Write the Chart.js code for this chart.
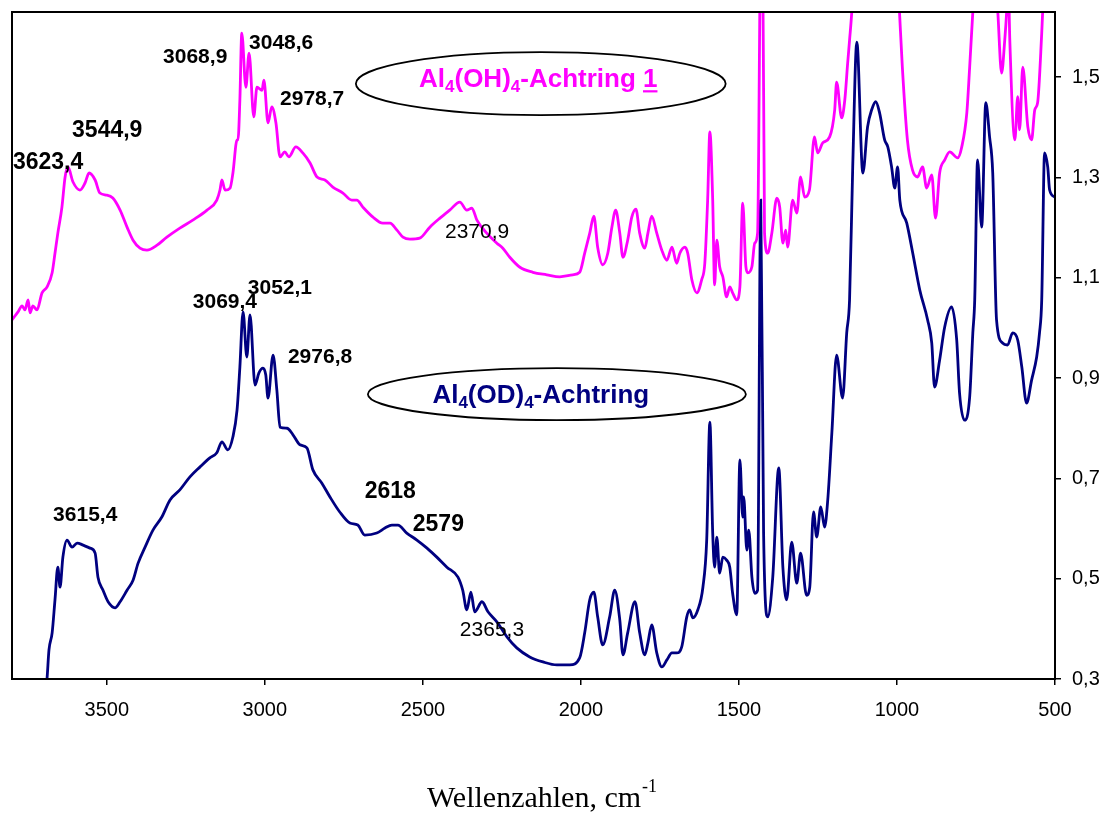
<!DOCTYPE html>
<html>
<head>
<meta charset="utf-8">
<script src="https://cdn.jsdelivr.net/npm/chart.js@4.4.1/dist/chart.umd.min.js"></script>
<style>
  html, body { margin: 0; padding: 0; background: #fff; }
  #wrap { width: 1104px; height: 813px; position: relative; }
</style>
</head>
<body>
<div id="wrap"><canvas id="c"></canvas></div>
<script>
// ---------------- DATA ----------------
const xTickValues = [3500, 3000, 2500, 2000, 1500, 1000, 500];
const yTickValues = [0.3, 0.5, 0.7, 0.9, 1.1, 1.3, 1.5];

// Al4(OH)4-Achtring 1 (magenta)
const ohWavenumbers = [3800,3781,3768,3759,3749,3743,3734,3721,3705,3689,3673,3664,3655,3642,3632,3623,3607,3585,3569,3556,3537,3522,3500,3481,3458,3436,3417,3395,3373,3341,3310,3269,3228,3183,3152,3142,3136,3126,3110,3101,3088,3085,3079,3073,3060,3050,3035,3025,3009,3003,2990,2978,2965,2952,2937,2924,2902,2880,2857,2835,2810,2785,2753,2725,2709,2690,2658,2627,2604,2582,2563,2541,2510,2478,2446,2415,2383,2361,2345,2329,2298,2266,2247,2225,2193,2152,2108,2067,2026,2004,1988,1972,1959,1947,1931,1915,1902,1890,1877,1867,1852,1839,1826,1814,1798,1788,1776,1760,1744,1728,1712,1697,1687,1671,1662,1649,1633,1618,1608,1599,1592,1583,1577,1570,1561,1551,1539,1529,1520,1507,1497,1488,1478,1472,1459,1450,1441,1431,1425,1419,1409,1396,1380,1371,1361,1352,1346,1330,1317,1305,1292,1277,1261,1251,1235,1213,1197,1191,1175,1165,1156,1150,1143,1125,1060,1010,992,983,967,951,935,919,906,890,878,865,849,833,808,795,779,770,760,740,700,681,669,659,653,648,643,627,618,612,602,586,574,564,555,542,539,520,500];
const ohAbsorbance = [1.016,1.032,1.044,1.036,1.056,1.030,1.044,1.036,1.070,1.082,1.110,1.149,1.189,1.241,1.301,1.321,1.291,1.275,1.289,1.309,1.295,1.269,1.265,1.259,1.235,1.201,1.175,1.159,1.155,1.165,1.181,1.199,1.215,1.235,1.255,1.275,1.295,1.275,1.279,1.309,1.375,1.375,1.455,1.588,1.480,1.548,1.421,1.480,1.474,1.494,1.409,1.441,1.409,1.341,1.351,1.341,1.361,1.349,1.329,1.301,1.295,1.281,1.269,1.255,1.255,1.241,1.221,1.209,1.209,1.195,1.181,1.177,1.179,1.201,1.219,1.235,1.251,1.235,1.239,1.215,1.189,1.169,1.159,1.141,1.121,1.111,1.106,1.102,1.106,1.111,1.149,1.189,1.223,1.161,1.126,1.149,1.201,1.235,1.189,1.141,1.175,1.221,1.237,1.189,1.159,1.189,1.223,1.189,1.155,1.135,1.161,1.129,1.149,1.161,1.149,1.096,1.070,1.096,1.129,1.255,1.391,1.255,1.086,1.175,1.122,1.102,1.062,1.082,1.070,1.056,1.082,1.249,1.122,1.110,1.122,1.169,1.189,1.75,1.75,1.189,1.149,1.189,1.259,1.241,1.169,1.195,1.161,1.255,1.229,1.301,1.261,1.275,1.381,1.349,1.369,1.381,1.435,1.490,1.419,1.455,1.528,1.574,1.63,1.85,1.95,1.85,1.63,1.520,1.375,1.315,1.301,1.321,1.279,1.305,1.219,1.309,1.335,1.351,1.339,1.361,1.429,1.520,1.63,1.8,1.8,1.63,1.508,1.574,1.63,1.7,1.574,1.375,1.461,1.395,1.520,1.401,1.375,1.435,1.449,1.588,1.63,1.8,1.85];

// Al4(OD)4-Achtring (navy)
const odWavenumbers = [3696,3689,3683,3673,3664,3655,3648,3639,3626,3610,3594,3575,3553,3537,3528,3512,3496,3474,3458,3436,3417,3401,3379,3354,3326,3300,3269,3237,3205,3174,3152,3136,3117,3101,3088,3079,3069,3057,3047,3031,3019,3006,2997,2990,2974,2962,2952,2930,2911,2889,2867,2848,2820,2794,2763,2731,2706,2684,2646,2620,2598,2579,2551,2519,2487,2456,2424,2389,2374,2361,2348,2336,2313,2294,2266,2234,2203,2162,2120,2076,2035,2004,1988,1972,1959,1947,1931,1909,1893,1877,1867,1852,1829,1814,1798,1788,1776,1760,1744,1728,1712,1697,1681,1665,1656,1646,1630,1614,1602,1592,1583,1577,1570,1561,1551,1539,1529,1520,1507,1497,1488,1485,1475,1469,1459,1450,1441,1431,1422,1409,1393,1374,1361,1349,1333,1317,1305,1286,1276,1264,1254,1241,1229,1219,1206,1191,1172,1159,1150,1140,1127,1108,1093,1080,1067,1055,1039,1029,1017,1007,998,991,969,950,928,903,890,881,865,849,827,811,802,786,770,760,754,745,732,719,707,697,685,666,650,634,618,605,590,574,558,549,542,533,523,517,501];
const odAbsorbance = [0.258,0.302,0.358,0.392,0.458,0.523,0.483,0.543,0.577,0.563,0.571,0.567,0.561,0.551,0.503,0.477,0.454,0.442,0.454,0.477,0.497,0.531,0.563,0.597,0.623,0.657,0.677,0.703,0.723,0.741,0.751,0.773,0.757,0.783,0.836,0.922,1.032,0.942,1.026,0.886,0.910,0.920,0.906,0.860,0.946,0.876,0.802,0.800,0.787,0.767,0.761,0.717,0.691,0.663,0.633,0.611,0.607,0.587,0.591,0.601,0.607,0.607,0.591,0.577,0.561,0.543,0.523,0.503,0.477,0.438,0.473,0.434,0.454,0.434,0.414,0.384,0.362,0.344,0.334,0.328,0.328,0.342,0.392,0.458,0.473,0.424,0.368,0.424,0.477,0.418,0.348,0.392,0.454,0.392,0.348,0.372,0.408,0.352,0.324,0.338,0.352,0.352,0.364,0.424,0.438,0.422,0.438,0.483,0.577,0.812,0.591,0.523,0.583,0.511,0.543,0.537,0.523,0.471,0.428,0.737,0.623,0.663,0.557,0.597,0.503,0.471,0.477,1.255,0.591,0.424,0.503,0.721,0.523,0.458,0.573,0.491,0.551,0.467,0.483,0.633,0.583,0.643,0.603,0.657,0.791,0.946,0.860,0.990,1.056,1.321,1.570,1.309,1.401,1.435,1.451,1.429,1.375,1.361,1.321,1.279,1.321,1.255,1.209,1.149,1.076,1.016,0.970,0.882,0.936,1.002,1.042,0.976,0.870,0.816,0.862,0.990,1.056,1.335,1.201,1.449,1.381,1.309,1.016,0.970,0.966,0.990,0.976,0.922,0.850,0.896,0.942,0.990,1.056,1.349,1.321,1.275,1.261];

// Peak labels (text + anchor in data coordinates)
const peakLabels = [
  { text: '3623,4', wn: 3797, val: 1.329, size: 23, bold: true },
  { text: '3544,9', wn: 3610, val: 1.393, size: 23, bold: true },
  { text: '3068,9', wn: 3322, val: 1.540, size: 21, bold: true },
  { text: '3048,6', wn: 3050, val: 1.568, size: 21, bold: true },
  { text: '2978,7', wn: 2952, val: 1.457, size: 21, bold: true },
  { text: '2370,9', wn: 2430, val: 1.191, size: 21, bold: false },
  { text: '3069,4', wn: 3228, val: 1.052, size: 21, bold: true },
  { text: '3052,1', wn: 3054, val: 1.080, size: 21, bold: true },
  { text: '2976,8', wn: 2927, val: 0.942, size: 21, bold: true },
  { text: '3615,4', wn: 3670, val: 0.627, size: 21, bold: true },
  { text: '2618',   wn: 2684, val: 0.673, size: 23, bold: true },
  { text: '2579',   wn: 2532, val: 0.607, size: 23, bold: true },
  { text: '2365,3', wn: 2383, val: 0.398, size: 21, bold: false }
];

const seriesLabels = [
  { color: '#FF00FF', cx: 2127, cy: 1.487, rx: 585, ry: 0.0628, textX: 2135, baseVal: 1.480,
    segs: [{t:'Al'},{t:'4',sub:true},{t:'(OH)'},{t:'4',sub:true},{t:'-Achtring '},{t:'1',u:true}] },
  { color: '#000080', cx: 2076, cy: 0.868, rx: 598, ry: 0.0518, textX: 2127, baseVal: 0.850,
    segs: [{t:'Al'},{t:'4',sub:true},{t:'(OD)'},{t:'4',sub:true},{t:'-Achtring'}] }
];

// ---------------- CHART ----------------
const SANS = '"Liberation Sans", Arial, sans-serif';
const SERIF = '"Liberation Serif", "Times New Roman", serif';
Chart.defaults.font.family = SANS;

function toPoints(xs, ys) { return xs.map((v, i) => ({ x: v, y: ys[i] })); }

const annotPlugin = {
  id: 'annot',
  afterDatasetsDraw(chart) {
    const { ctx, chartArea: a, scales: { x, y } } = chart;
    ctx.save();
    ctx.strokeStyle = '#000';
    ctx.lineWidth = 2;
    ctx.strokeRect(a.left, a.top, a.right - a.left, a.bottom - a.top);

    ctx.fillStyle = '#000';
    ctx.textAlign = 'left';
    ctx.textBaseline = 'middle';
    peakLabels.forEach(l => {
      ctx.font = (l.bold ? 'bold ' : '') + l.size + 'px ' + SANS;
      ctx.fillText(l.text, x.getPixelForValue(l.wn), y.getPixelForValue(l.val));
    });

    seriesLabels.forEach(s => {
      const cx = x.getPixelForValue(s.cx), cy = y.getPixelForValue(s.cy);
      const rx = Math.abs(x.getPixelForValue(s.cx - s.rx) - cx);
      const ry = Math.abs(y.getPixelForValue(s.cy + s.ry) - cy);
      ctx.beginPath();
      ctx.ellipse(cx, cy, rx, ry, 0, 0, Math.PI * 2);
      ctx.strokeStyle = '#000';
      ctx.lineWidth = 1.8;
      ctx.stroke();

      const size = 26, subSize = 17;
      let total = 0;
      s.segs.forEach(g => {
        ctx.font = 'bold ' + (g.sub ? subSize : size) + 'px ' + SANS;
        g.w = ctx.measureText(g.t).width;
        total += g.w;
      });
      let px = x.getPixelForValue(s.textX) - total / 2;
      const base = y.getPixelForValue(s.baseVal);
      ctx.fillStyle = s.color;
      ctx.textBaseline = 'alphabetic';
      s.segs.forEach(g => {
        ctx.font = 'bold ' + (g.sub ? subSize : size) + 'px ' + SANS;
        ctx.fillText(g.t, px, base + (g.sub ? 5 : 0));
        if (g.u) ctx.fillRect(px, base + 3, g.w, 2.2);
        px += g.w;
      });
    });
    ctx.restore();
  },
  afterDraw(chart) {
    const { ctx, chartArea: a } = chart;
    ctx.save();
    ctx.fillStyle = '#000';
    ctx.textBaseline = 'alphabetic';
    ctx.textAlign = 'left';
    const main = 'Wellenzahlen, cm', sup = '-1';
    ctx.font = '30px ' + SERIF;
    const mw = ctx.measureText(main).width;
    ctx.font = '18px ' + SERIF;
    const sw = ctx.measureText(sup).width;
    const cx = (a.left + a.right) / 2 + 8;
    const start = cx - (mw + sw) / 2;
    const base = chart.height - 6;
    ctx.font = '30px ' + SERIF;
    ctx.fillText(main, start, base);
    ctx.font = '18px ' + SERIF;
    ctx.fillText(sup, start + mw + 1, base - 15);
    ctx.restore();
  }
};

new Chart(document.getElementById('c'), {
  type: 'line',
  data: {
    datasets: [
      { label: 'Al4(OH)4-Achtring 1', data: toPoints(ohWavenumbers, ohAbsorbance),
        borderColor: '#FF00FF', borderWidth: 2.8, pointRadius: 0, cubicInterpolationMode: 'monotone', fill: false },
      { label: 'Al4(OD)4-Achtring', data: toPoints(odWavenumbers, odAbsorbance),
        borderColor: '#000080', borderWidth: 2.8, pointRadius: 0, cubicInterpolationMode: 'monotone', fill: false }
    ]
  },
  options: {
    responsive: true,
    maintainAspectRatio: false,
    animation: false,
    layout: { padding: { left: 12, top: 12, right: 0, bottom: 0 } },
    plugins: { legend: { display: false }, tooltip: { enabled: false }, title: { display: false } },
    scales: {
      x: {
        type: 'linear', min: 500, max: 3800, reverse: true, position: 'bottom',
        afterBuildTicks: s => { s.ticks = xTickValues.map(v => ({ value: v })); },
        afterFit: s => { s.height = 134; s.paddingLeft = 0; s.paddingRight = 0; },
        ticks: { color: '#000', font: { size: 20 }, padding: 13, maxRotation: 0, autoSkip: false,
                 callback: v => String(v) },
        grid: { display: true, drawOnChartArea: false, drawTicks: true, tickLength: 6, color: '#000', lineWidth: 1.5 },
        border: { display: true, color: '#000', width: 2 }
      },
      y: {
        type: 'linear', min: 0.3, max: 1.63, position: 'right',
        afterBuildTicks: s => { s.ticks = yTickValues.map(v => ({ value: v })); },
        afterFit: s => { s.width = 49; s.paddingTop = 0; s.paddingBottom = 0; },
        ticks: { color: '#000', font: { size: 20 }, padding: 11, autoSkip: false,
                 callback: v => v.toFixed(1).replace('.', ',') },
        grid: { display: true, drawOnChartArea: false, drawTicks: true, tickLength: 6, color: '#000', lineWidth: 1.5 },
        border: { display: true, color: '#000', width: 2 }
      }
    }
  },
  plugins: [annotPlugin]
});
</script>
</body>
</html>
